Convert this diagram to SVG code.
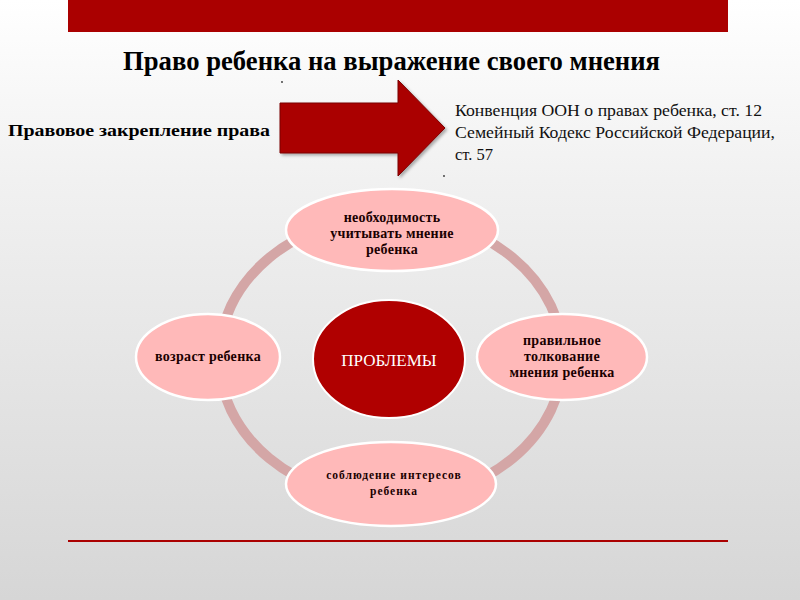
<svg xmlns="http://www.w3.org/2000/svg" width="800" height="600" viewBox="0 0 800 600">
<defs>
<linearGradient id="bg" x1="0" y1="0" x2="0" y2="1">
<stop offset="0" stop-color="#ffffff"/>
<stop offset="0.3" stop-color="#f1f1f1"/>
<stop offset="1" stop-color="#d6d6d6"/>
</linearGradient>
<filter id="sh" x="-10%" y="-10%" width="130%" height="130%">
<feDropShadow dx="2" dy="2" stdDeviation="1.5" flood-color="#000" flood-opacity="0.3"/>
</filter>
</defs>
<style>
.serif{font-family:"Liberation Serif","Times New Roman",serif}
.node{fill:#ffb9b9;stroke:#ffffff;stroke-width:2.5}
.nt{font-family:"Liberation Serif","Times New Roman",serif;font-weight:bold;font-size:14px;fill:#1a0000;text-anchor:middle;letter-spacing:0.3px}
.ring{fill:none;stroke:#d4a6a6;stroke-width:10}
.ref{font-family:"Liberation Serif","Times New Roman",serif;font-size:16.5px;fill:#111}
.dot{fill:#333}
</style>
<rect width="800" height="600" fill="url(#bg)"/>
<rect x="68" y="0" width="660" height="32" fill="#aa0000"/>
<line x1="68" y1="541" x2="728" y2="541" stroke="#aa0000" stroke-width="2"/>
<text class="serif" x="123" y="70" font-weight="bold" font-size="28" textLength="537" lengthAdjust="spacingAndGlyphs" fill="#000">Право ребенка на выражение своего мнения</text>
<text class="serif" x="8" y="136" font-weight="bold" font-size="17" textLength="262" lengthAdjust="spacingAndGlyphs" fill="#000">Правовое закрепление права</text>
<g id="arrow">
<polygon points="280,103 398,103 398,80 445,128 398,176 398,153 280,153" fill="#aa0000" stroke="#7a0000" stroke-width="1" filter="url(#sh)"/>
</g>
<g id="refs">
<text class="ref" x="455" y="116" textLength="307" lengthAdjust="spacingAndGlyphs">Конвенция ООН о правах ребенка, ст. 12</text>
<text class="ref" x="455" y="138" textLength="320" lengthAdjust="spacingAndGlyphs">Семейный Кодекс Российской Федерации,</text>
<text class="ref" x="455" y="160">ст. 57</text>
</g>
<circle class="dot" cx="282" cy="82" r="0.9"/>
<circle class="dot" cx="444" cy="176" r="0.9"/>
<g id="connectors">
<ellipse class="ring" cx="391" cy="358" rx="172" ry="142"/>
</g>
<g id="top">
<ellipse class="node" cx="392" cy="230" rx="106" ry="41"/>
<text class="nt" x="392" y="222">необходимость</text>
<text class="nt" x="392" y="238">учитывать мнение</text>
<text class="nt" x="392" y="254">ребенка</text>
</g>
<g id="left">
<ellipse class="node" cx="208" cy="357" rx="72" ry="43"/>
<text class="nt" x="208" y="361">возраст ребенка</text>
</g>
<g id="right">
<ellipse class="node" cx="562" cy="357" rx="85" ry="43"/>
<text class="nt" x="562" y="345">правильное</text>
<text class="nt" x="562" y="361">толкование</text>
<text class="nt" x="562" y="377">мнения ребенка</text>
</g>
<g id="bottom">
<ellipse class="node" cx="391" cy="484" rx="105" ry="42"/>
<text class="nt" x="394" y="479" style="font-size:11.5px;letter-spacing:1px">соблюдение интересов</text>
<text class="nt" x="394" y="495" style="font-size:11.5px;letter-spacing:1px">ребенка</text>
</g>
<g id="center">
<ellipse cx="389" cy="359" rx="76" ry="59" fill="#b00000" stroke="#ffffff" stroke-width="2"/>
<text class="serif" x="389" y="366" text-anchor="middle" font-size="17" fill="#ffffff">ПРОБЛЕМЫ</text>
</g>
</svg>
